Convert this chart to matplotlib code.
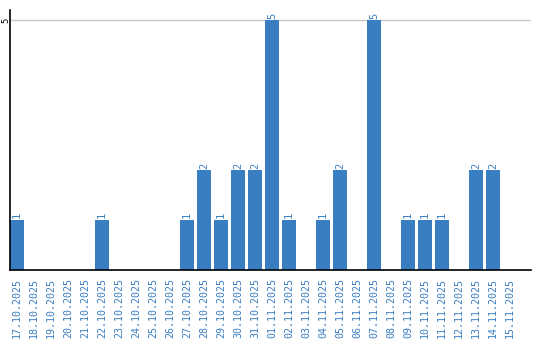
import numpy as np
import matplotlib.pyplot as plt

dates = ["17.10.2025", "18.10.2025", "19.10.2025", "20.10.2025", "21.10.2025",
         "22.10.2025", "23.10.2025", "24.10.2025", "25.10.2025", "26.10.2025",
         "27.10.2025", "28.10.2025", "29.10.2025", "30.10.2025", "31.10.2025",
         "01.11.2025", "02.11.2025", "03.11.2025", "04.11.2025", "05.11.2025",
         "06.11.2025", "07.11.2025", "08.11.2025", "09.11.2025", "10.11.2025",
         "11.11.2025", "12.11.2025", "13.11.2025", "14.11.2025", "15.11.2025"]
counts = [1, 0, 0, 0, 0, 1, 0, 0, 0, 0, 1, 2, 1, 2, 2, 5, 1, 0, 1, 2,
          0, 5, 0, 1, 1, 1, 0, 2, 2, 0]

blue = "#3a7ec2"
plt.rcParams["font.family"] = ["DejaVu Sans Mono"]

fig = plt.figure(figsize=(5.4, 3.4), dpi=100)
ax = fig.add_axes([10 / 540, 70 / 340, 521 / 540, 260 / 340])

x = np.arange(len(dates))
ax.bar(x, counts, width=0.82, color=blue, zorder=2)
for xi, c in zip(x, counts):
    if c > 0:
        ax.text(xi, c + 0.03, str(c), rotation=90, ha="center", va="bottom",
                color=blue, fontsize=7.5)

ax.set_xlim(-0.41, 30.24)
ax.set_ylim(0, 5.2)
ax.set_xticks(x)
ax.set_xticklabels(dates, rotation=90, color=blue, fontsize=7.2)
ax.set_yticks([5])
ax.set_yticklabels(["5"], rotation=90, va="center", fontsize=6.5)
ax.tick_params(axis="x", length=0, pad=6)
ax.tick_params(axis="y", length=0, pad=0)
ax.yaxis.grid(True, color="#c8c8c8", linewidth=1, zorder=0)
for s in ["top", "right"]:
    ax.spines[s].set_visible(False)
for s in ["left", "bottom"]:
    ax.spines[s].set_linewidth(1.2)
    ax.spines[s].set_zorder(3)

fig.savefig("out.png", dpi=100)
